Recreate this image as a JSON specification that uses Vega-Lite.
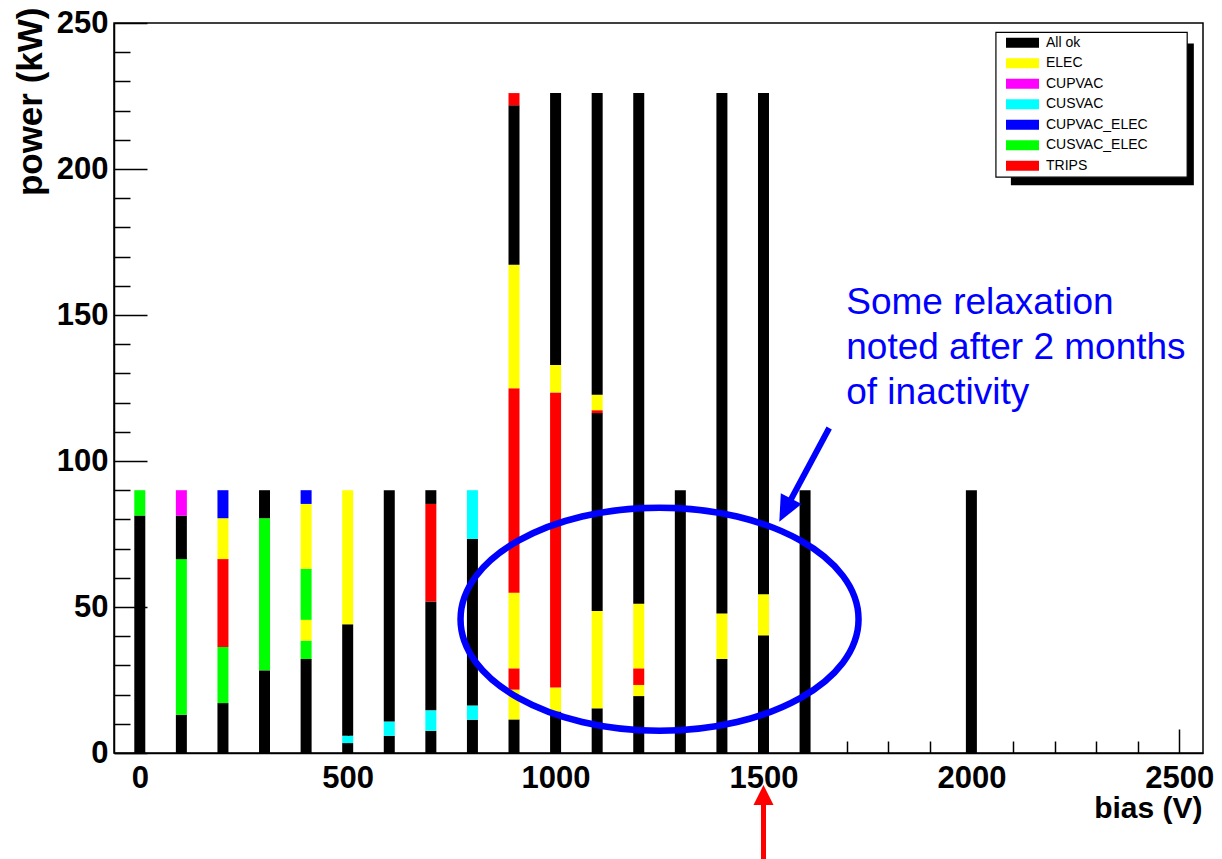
{
  "$schema": "https://vega.github.io/schema/vega-lite/v6.json",
  "width": 1089,
  "height": 730,
  "autosize": {"type": "none"},
  "padding": {"left": 114, "top": 23, "right": 19, "bottom": 106},
  "background": "white",
  "config": {
    "view": {"stroke": "#000", "strokeWidth": 1.5},
    "font": "Liberation Sans"
  },
  "datasets": {
    "bars": [
      {"bias": 0, "status": "All ok", "power": 81.3, "seg": 1},
      {"bias": 0, "status": "CUSVAC_ELEC", "power": 8.7, "seg": 2},
      {"bias": 100, "status": "All ok", "power": 13.1, "seg": 1},
      {"bias": 100, "status": "CUSVAC_ELEC", "power": 53.3, "seg": 2},
      {"bias": 100, "status": "All ok", "power": 14.9, "seg": 3},
      {"bias": 100, "status": "CUPVAC", "power": 8.7, "seg": 4},
      {"bias": 200, "status": "All ok", "power": 17.1, "seg": 1},
      {"bias": 200, "status": "CUSVAC_ELEC", "power": 19.2, "seg": 2},
      {"bias": 200, "status": "TRIPS", "power": 30.1, "seg": 3},
      {"bias": 200, "status": "ELEC", "power": 14.0, "seg": 4},
      {"bias": 200, "status": "CUPVAC_ELEC", "power": 9.6, "seg": 5},
      {"bias": 300, "status": "All ok", "power": 28.3, "seg": 1},
      {"bias": 300, "status": "CUSVAC_ELEC", "power": 52.1, "seg": 2},
      {"bias": 300, "status": "All ok", "power": 9.6, "seg": 3},
      {"bias": 400, "status": "All ok", "power": 32.2, "seg": 1},
      {"bias": 400, "status": "CUSVAC_ELEC", "power": 6.3, "seg": 2},
      {"bias": 400, "status": "ELEC", "power": 7.1, "seg": 3},
      {"bias": 400, "status": "CUSVAC_ELEC", "power": 17.5, "seg": 4},
      {"bias": 400, "status": "ELEC", "power": 22.2, "seg": 5},
      {"bias": 400, "status": "CUPVAC_ELEC", "power": 4.7, "seg": 6},
      {"bias": 500, "status": "All ok", "power": 3.4, "seg": 1},
      {"bias": 500, "status": "CUSVAC", "power": 2.5, "seg": 2},
      {"bias": 500, "status": "All ok", "power": 38.2, "seg": 3},
      {"bias": 500, "status": "ELEC", "power": 45.9, "seg": 4},
      {"bias": 600, "status": "All ok", "power": 5.9, "seg": 1},
      {"bias": 600, "status": "CUSVAC", "power": 4.9, "seg": 2},
      {"bias": 600, "status": "All ok", "power": 79.2, "seg": 3},
      {"bias": 700, "status": "All ok", "power": 7.6, "seg": 1},
      {"bias": 700, "status": "CUSVAC", "power": 7.0, "seg": 2},
      {"bias": 700, "status": "All ok", "power": 37.3, "seg": 3},
      {"bias": 700, "status": "TRIPS", "power": 33.4, "seg": 4},
      {"bias": 700, "status": "All ok", "power": 4.7, "seg": 5},
      {"bias": 800, "status": "All ok", "power": 11.4, "seg": 1},
      {"bias": 800, "status": "CUSVAC", "power": 4.9, "seg": 2},
      {"bias": 800, "status": "All ok", "power": 57.0, "seg": 3},
      {"bias": 800, "status": "CUSVAC", "power": 16.7, "seg": 4},
      {"bias": 900, "status": "All ok", "power": 11.5, "seg": 1},
      {"bias": 900, "status": "ELEC", "power": 10.2, "seg": 2},
      {"bias": 900, "status": "TRIPS", "power": 7.3, "seg": 3},
      {"bias": 900, "status": "ELEC", "power": 25.9, "seg": 4},
      {"bias": 900, "status": "TRIPS", "power": 70.0, "seg": 5},
      {"bias": 900, "status": "ELEC", "power": 42.3, "seg": 6},
      {"bias": 900, "status": "All ok", "power": 54.6, "seg": 7},
      {"bias": 900, "status": "TRIPS", "power": 4.2, "seg": 8},
      {"bias": 1000, "status": "All ok", "power": 14.2, "seg": 1},
      {"bias": 1000, "status": "ELEC", "power": 8.2, "seg": 2},
      {"bias": 1000, "status": "TRIPS", "power": 101.1, "seg": 3},
      {"bias": 1000, "status": "ELEC", "power": 9.4, "seg": 4},
      {"bias": 1000, "status": "All ok", "power": 93.1, "seg": 5},
      {"bias": 1100, "status": "All ok", "power": 15.3, "seg": 1},
      {"bias": 1100, "status": "ELEC", "power": 33.3, "seg": 2},
      {"bias": 1100, "status": "All ok", "power": 67.8, "seg": 3},
      {"bias": 1100, "status": "TRIPS", "power": 1.0, "seg": 4},
      {"bias": 1100, "status": "ELEC", "power": 5.3, "seg": 5},
      {"bias": 1100, "status": "All ok", "power": 103.3, "seg": 6},
      {"bias": 1200, "status": "All ok", "power": 19.5, "seg": 1},
      {"bias": 1200, "status": "ELEC", "power": 3.8, "seg": 2},
      {"bias": 1200, "status": "TRIPS", "power": 5.7, "seg": 3},
      {"bias": 1200, "status": "ELEC", "power": 22.1, "seg": 4},
      {"bias": 1200, "status": "All ok", "power": 174.9, "seg": 5},
      {"bias": 1300, "status": "All ok", "power": 90, "seg": 1},
      {"bias": 1400, "status": "All ok", "power": 32.2, "seg": 1},
      {"bias": 1400, "status": "ELEC", "power": 15.6, "seg": 2},
      {"bias": 1400, "status": "All ok", "power": 178.2, "seg": 3},
      {"bias": 1500, "status": "All ok", "power": 40.3, "seg": 1},
      {"bias": 1500, "status": "ELEC", "power": 14.1, "seg": 2},
      {"bias": 1500, "status": "All ok", "power": 171.6, "seg": 3},
      {"bias": 1600, "status": "All ok", "power": 90, "seg": 1},
      {"bias": 2000, "status": "All ok", "power": 90, "seg": 1}
    ],
    "note": [{"label": "note"}]
  },
  "layer": [
    {
      "data": {"name": "bars"},
      "mark": {"type": "bar", "size": 11},
      "encoding": {
        "x": {
          "field": "bias", "type": "quantitative",
          "scale": {"domain": [-50, 2545], "nice": false, "zero": false},
          "axis": {
            "title": "bias (V)",
            "titleFont": "Liberation Sans", "titleFontWeight": "bold", "titleFontSize": 30, "titleColor": "#000",
            "titleAnchor": "end", "titleAlign": "right", "titleX": 1088, "titleY": 64, "titleBaseline": "alphabetic",
            "values": [0,100,200,300,400,500,600,700,800,900,1000,1100,1200,1300,1400,1500,1600,1700,1800,1900,2000,2100,2200,2300,2400,2500],
            "tickCount": 40,
            "labelExpr": "datum.value % 500 === 0 ? datum.label : ''",
            "format": "d",
            "labelFont": "Liberation Sans", "labelFontWeight": "bold", "labelFontSize": 31, "labelColor": "#000",
            "labelBaseline": "top", "labelPadding": 34, "labelFlush": false, "labelOverlap": false, "labelBound": false,
            "tickSize": {"condition": {"test": "datum.value % 500 === 0", "value": -24}, "value": -12},
            "tickColor": "#000", "tickWidth": 1.5,
            "domainColor": "#000", "domainWidth": 1.5, "grid": false
          }
        },
        "y": {
          "field": "power", "type": "quantitative", "stack": "zero",
          "scale": {"domain": [0, 250], "nice": false, "zero": false},
          "axis": {
            "title": "power (kW)",
            "titleFont": "Liberation Sans", "titleFontWeight": "bold", "titleFontSize": 35, "titleColor": "#000",
            "titleAnchor": "end", "titleAngle": 270, "titleAlign": "right", "titleX": -73, "titleY": -16, "titleBaseline": "alphabetic",
            "values": [0,10,20,30,40,50,60,70,80,90,100,110,120,130,140,150,160,170,180,190,200,210,220,230,240,250],
            "tickCount": 40,
            "labelExpr": "datum.value % 50 === 0 ? datum.label : ''",
            "format": "d",
            "labelFont": "Liberation Sans", "labelFontWeight": "bold", "labelFontSize": 31, "labelColor": "#000",
            "labelPadding": 39, "labelFlush": false, "labelOverlap": false, "labelBound": false,
            "tickSize": {"condition": {"test": "datum.value % 50 === 0", "value": -33}, "value": -16},
            "tickColor": "#000", "tickWidth": 1.5,
            "domainColor": "#000", "domainWidth": 1.5, "grid": false
          }
        },
        "order": {"field": "seg", "type": "quantitative"},
        "color": {
          "field": "status", "type": "nominal",
          "scale": {
            "domain": ["All ok", "ELEC", "CUPVAC", "CUSVAC", "CUPVAC_ELEC", "CUSVAC_ELEC", "TRIPS"],
            "range": ["#000000", "#ffff00", "#ff00ff", "#00ffff", "#0000ff", "#00ff00", "#ff0000"]
          },
          "legend": {
            "title": null, "orient": "none", "legendX": 901.5, "legendY": 12.7, "padding": 0,
            "symbolType": "M-3.3,-1H3.3V1H-3.3Z", "symbolSize": 100, "symbolStrokeWidth": 0, "symbolOpacity": 1,
            "labelFont": "Liberation Sans", "labelFontSize": 14, "labelColor": "#000", "labelOffset": 16.5,
            "rowPadding": 6.5
          }
        }
      }
    },
    {
      "data": {"name": "note"},
      "mark": {"type": "rect", "fill": "#000", "strokeWidth": 0},
      "encoding": {
        "x": {"datum": 2095, "type": "quantitative", "scale": {"domain": [-50, 2545], "nice": false, "zero": false}},
        "x2": {"datum": 2535},
        "y": {"datum": 243.0, "type": "quantitative", "scale": {"domain": [0, 250], "nice": false, "zero": false}},
        "y2": {"datum": 194.4}
      }
    },
    {
      "data": {"name": "note"},
      "mark": {"type": "rect", "fill": "#fff", "stroke": "#000", "strokeWidth": 1.2},
      "encoding": {
        "x": {"datum": 2059, "type": "quantitative", "scale": {"domain": [-50, 2545], "nice": false, "zero": false}},
        "x2": {"datum": 2519},
        "y": {"datum": 246.8, "type": "quantitative", "scale": {"domain": [0, 250], "nice": false, "zero": false}},
        "y2": {"datum": 197.2}
      }
    },
    {
      "data": {"name": "note"},
      "mark": {
        "type": "point", "filled": false, "opacity": 1, "stroke": "#0000ff", "strokeWidth": 6.5,
        "shape": "M1,0C1,0.3095 0.5523,0.5603 0,0.5603C-0.5523,0.5603 -1,0.3095 -1,0C-1,-0.3095 -0.5523,-0.5603 0,-0.5603C0.5523,-0.5603 1,-0.3095 1,0Z",
        "size": 158404
      },
      "encoding": {
        "x": {"datum": 1250, "type": "quantitative", "scale": {"domain": [-50, 2545], "nice": false, "zero": false}},
        "y": {"datum": 45.8, "type": "quantitative", "scale": {"domain": [0, 250], "nice": false, "zero": false}}
      }
    },
    {
      "data": {"name": "note"},
      "mark": {"type": "rule", "color": "#0000ff", "strokeWidth": 6},
      "encoding": {
        "x": {"datum": 1658, "type": "quantitative", "scale": {"domain": [-50, 2545], "nice": false, "zero": false}},
        "x2": {"datum": 1558},
        "y": {"datum": 111.3, "type": "quantitative", "scale": {"domain": [0, 250], "nice": false, "zero": false}},
        "y2": {"datum": 84.7}
      }
    },
    {
      "data": {"name": "note"},
      "mark": {
        "type": "point", "filled": true, "opacity": 1, "color": "#0000ff", "strokeWidth": 0,
        "shape": "M0,0L0.45,1L-0.45,1Z", "size": 2704, "angle": 207.3
      },
      "encoding": {
        "x": {"datum": 1538, "type": "quantitative", "scale": {"domain": [-50, 2545], "nice": false, "zero": false}},
        "y": {"datum": 79.2, "type": "quantitative", "scale": {"domain": [0, 250], "nice": false, "zero": false}}
      }
    },
    {
      "data": {"name": "note"},
      "mark": {
        "type": "text", "align": "left", "baseline": "alphabetic", "font": "Liberation Sans",
        "fontSize": 37, "lineHeight": 45, "color": "#0000ff",
        "text": ["Some relaxation", "noted after 2 months", "of inactivity"]
      },
      "encoding": {
        "x": {"datum": 1699, "type": "quantitative", "scale": {"domain": [-50, 2545], "nice": false, "zero": false}},
        "y": {"datum": 150.2, "type": "quantitative", "scale": {"domain": [0, 250], "nice": false, "zero": false}}
      }
    },
    {
      "data": {"name": "note"},
      "mark": {"type": "rule", "color": "#ff0000", "strokeWidth": 5},
      "encoding": {
        "x": {"datum": 1500, "type": "quantitative", "scale": {"domain": [-50, 2545], "nice": false, "zero": false}},
        "y": {"datum": -16, "type": "quantitative", "scale": {"domain": [0, 250], "nice": false, "zero": false}},
        "y2": {"datum": -40}
      }
    },
    {
      "data": {"name": "note"},
      "mark": {
        "type": "point", "filled": true, "opacity": 1, "color": "#ff0000", "strokeWidth": 0,
        "shape": "M0,0L0.5,1L-0.5,1Z", "size": 1600
      },
      "encoding": {
        "x": {"datum": 1500, "type": "quantitative", "scale": {"domain": [-50, 2545], "nice": false, "zero": false}},
        "y": {"datum": -11, "type": "quantitative", "scale": {"domain": [0, 250], "nice": false, "zero": false}}
      }
    }
  ]
}
